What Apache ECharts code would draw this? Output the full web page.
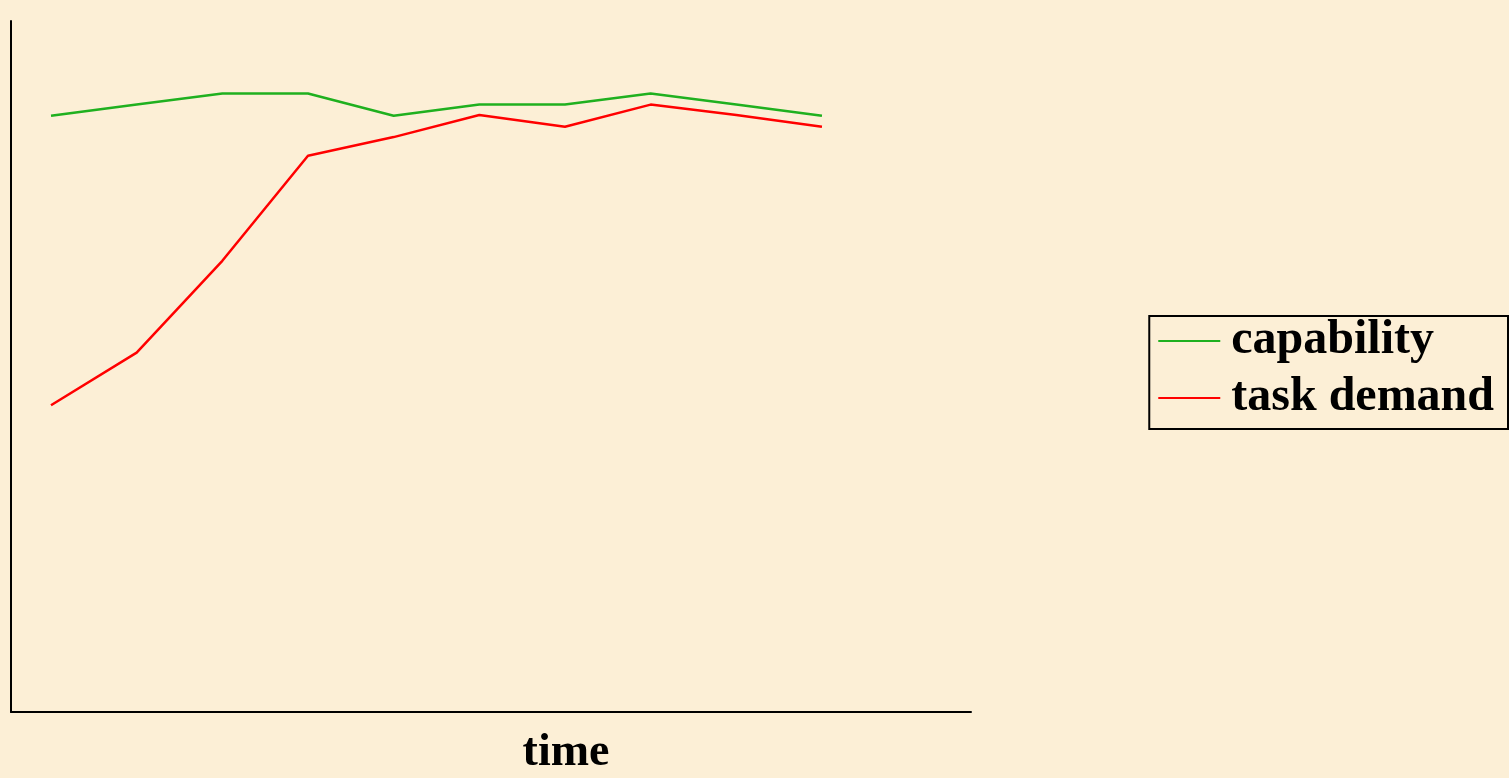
<!DOCTYPE html>
<html>
<head>
<meta charset="utf-8">
<style>
  html, body { margin: 0; padding: 0; background: #fcefd6; }
  #chart { width: 1509px; height: 778px; }
</style>
<script src="https://cdn.jsdelivr.net/npm/echarts@6/dist/echarts.min.js"></script>
</head>
<body>
<div id="chart"></div>
<script>
// Time steps along the horizontal axis
const timeSteps = [0, 1, 2, 3, 4, 5, 6, 7, 8, 9];
// Series values (relative scale 0-100)
const capability = [86.3, 87.9, 89.5, 89.5, 86.3, 87.9, 87.9, 89.5, 87.9, 86.3];
const taskDemand = [44.4, 52.0, 65.3, 80.5, 83.2, 86.4, 84.7, 87.9, 86.4, 84.7];
const seriesNames = ['capability', 'task demand'];
const seriesColors = ['#1fb01f', '#ff0000'];

const chart = echarts.init(document.getElementById('chart'));
const pair = (vals) => vals.map((v, i) => [timeSteps[i], v]);

chart.setOption({
  backgroundColor: '#fcefd6',
  animation: false,
  grid: { left: 11, right: 538, top: 21, bottom: 66, outerBoundsMode: 'none', containLabel: false },
  xAxis: {
    type: 'value',
    min: -0.467,
    max: 10.74,
    name: 'time',
    nameLocation: 'middle',
    nameGap: 18,
    nameTextStyle: {
      fontFamily: 'Liberation Serif', fontWeight: 'bold', fontSize: 46, color: '#000',
      padding: [0, 0, 0, 150]
    },
    axisLine: { show: true, onZero: false, lineStyle: { color: '#000', width: 2 } },
    axisTick: { show: false },
    axisLabel: { show: false },
    splitLine: { show: false }
  },
  yAxis: {
    type: 'value',
    min: 0,
    max: 100,
    axisLine: { show: true, onZero: false, lineStyle: { color: '#000', width: 2 } },
    axisTick: { show: false },
    axisLabel: { show: false },
    splitLine: { show: false }
  },
  legend: {
    orient: 'vertical',
    right: 1,
    top: 316,
    padding: [0, 14, 6, 9],
    itemGap: 7,
    itemWidth: 62,
    itemHeight: 2,
    icon: 'rect',
    borderColor: '#000',
    borderWidth: 2,
    backgroundColor: 'transparent',
    data: seriesNames,
    textStyle: {
      fontFamily: 'Liberation Serif',
      fontWeight: 'bold',
      fontSize: 48,
      lineHeight: 50,
      color: '#000',
      padding: [0, 0, 0, 6]
    }
  },
  series: [
    {
      name: seriesNames[0],
      type: 'line',
      data: pair(capability),
      symbol: 'none',
      color: seriesColors[0],
      lineStyle: { width: 2.5, color: seriesColors[0] }
    },
    {
      name: seriesNames[1],
      type: 'line',
      data: pair(taskDemand),
      symbol: 'none',
      color: seriesColors[1],
      lineStyle: { width: 2.5, color: seriesColors[1] }
    }
  ]
});
</script>
</body>
</html>
